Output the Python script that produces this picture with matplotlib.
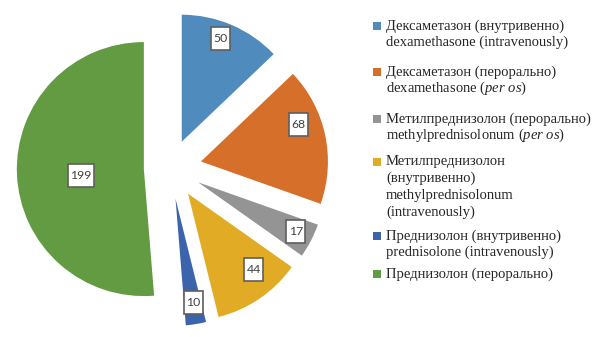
import matplotlib
matplotlib.use("Agg")
import matplotlib.pyplot as plt
from matplotlib.path import Path
from matplotlib.patches import Rectangle
import numpy as np

# ---- data ----
values = [50, 68, 17, 44, 10, 199]
colors = ["#508BBE", "#D56F2A", "#949494", "#E2AB26", "#3B64AD", "#629B42"]
legend_labels = [
    "Дексаметазон (внутривенно)\ndexamethasone (intravenously)",
    "Дексаметазон (перорально)\ndexamethasone ($\\mathit{per\\ os}$)",
    "Метилпреднизолон (перорально)\nmethylprednisolonum ($\\mathit{per\\ os}$)",
    "Метилпреднизолон\n(внутривенно)\nmethylprednisolonum\n(intravenously)",
    "Преднизолон (внутривенно)\nprednisolone (intravenously)",
    "Преднизолон (перорально)",
]

# ---- layout / style ----
W, H = 604, 337
R = 127
explode_frac = [0.225, 0.245, 0.245, 0.245, 0.245, 0.21]
label_rad = [0.87, 0.82, 0.86, 0.79, 0.83, 0.50]    # radial position of value labels
label_ang = [0.56, 0.64, 0.55, 0.66, 0.56, 0.52]    # angular position within wedge
legend_first_y = [26, 72, 119, 162, 236, 274]       # pixel rows (from top)
line_step = 16.6

plt.rcParams["mathtext.fontset"] = "custom"
plt.rcParams["mathtext.rm"] = "Liberation Serif"
plt.rcParams["mathtext.it"] = "Liberation Serif:italic"

fig = plt.figure(figsize=(W / 100, H / 100), dpi=100)
ax = fig.add_axes([0, 0, 1, 1])

cx, cy = 170.5, H - 168
wedges, _ = ax.pie(values, colors=colors, startangle=90, counterclock=False,
                   explode=[e * R for e in explode_frac], radius=R,
                   center=(cx, cy), frame=True, wedgeprops=dict(linewidth=0))


def tallbox(x0, y0, width, height, mutation_size):
    padx = 0.20 * mutation_size
    pady = 0.50 * mutation_size
    x0 -= padx; y0 -= pady
    x1 = x0 + width + 2 * padx
    y1 = y0 + height + 2 * pady
    return Path([(x0, y0), (x1, y0), (x1, y1), (x0, y1), (x0, y0)],
                closed=True)


for w, v, fr, fa in zip(wedges, values, label_rad, label_ang):
    ang = np.deg2rad(w.theta1 + fa * (w.theta2 - w.theta1))
    x = w.center[0] + fr * w.r * np.cos(ang)
    y = w.center[1] + fr * w.r * np.sin(ang)
    ax.text(x, y, str(v), ha="center", va="center", fontsize=8.8,
            family="Lato", color="#404040",
            bbox=dict(boxstyle=tallbox, facecolor="white",
                      edgecolor="#5f5f5f", linewidth=1.2))

ax.set_xlim(0, W)
ax.set_ylim(0, H)
ax.set_aspect("auto")
ax.axis("off")

# ---- legend ----
for lab, col, y0 in zip(legend_labels, colors, legend_first_y):
    ax.add_patch(Rectangle((373, H - y0 - 4), 8, 8, facecolor=col,
                           edgecolor="none"))
    for i, line in enumerate(lab.split("\n")):
        ax.text(386, H - (y0 + i * line_step), line, ha="left", va="center",
                fontsize=10.5, family="Liberation Serif", color="#262626")

fig.savefig("out.png", dpi=100)
